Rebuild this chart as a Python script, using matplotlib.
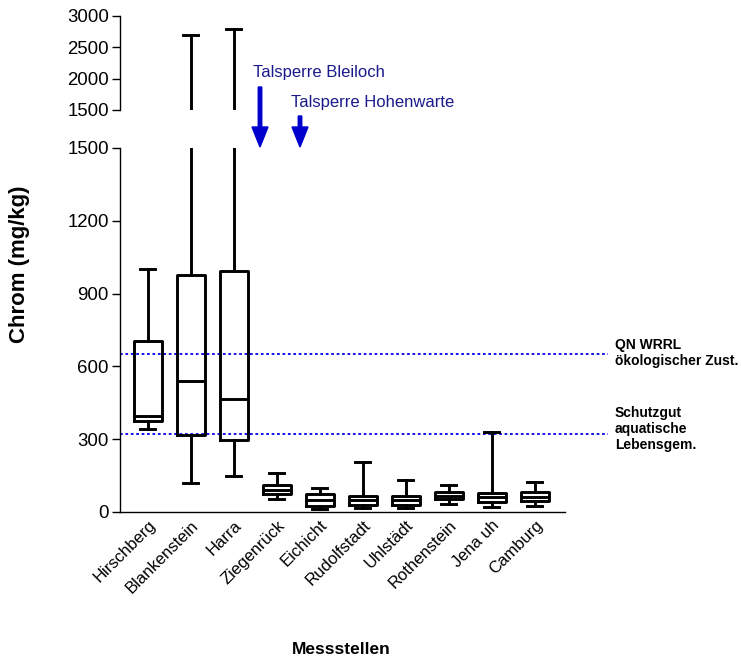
import matplotlib
matplotlib.use("Agg")
import matplotlib.pyplot as plt

plt.rcParams['font.family'] = ['Liberation Sans', 'DejaVu Sans']

categories = ["Hirschberg", "Blankenstein", "Harra", "Ziegenrück", "Eichicht",
              "Rudolfstadt", "Uhlstädt", "Rothenstein", "Jena uh", "Camburg"]
whislo = [340, 120, 150, 55, 12, 16, 18, 31, 19, 23]
q1     = [374, 316, 295, 75, 23, 29, 30, 54, 42, 47]
med    = [394, 540, 467, 92, 48, 48, 51, 66, 60, 63]
q3     = [705, 977, 995, 111, 73, 64, 67, 81, 78, 82]
whishi = [1000, 2700, 2800, 161, 100, 207, 130, 111, 330, 124]

qn_wrrl = 650
schutzgut = 320

stats = [dict(whislo=a, q1=b, med=c, q3=d, whishi=e, label=l)
         for a, b, c, d, e, l in zip(whislo, q1, med, q3, whishi, categories)]

fig = plt.figure(figsize=(7.41, 6.59), dpi=100)
W, H = 741, 659
left, right = 120 / W, 565 / W
ax = fig.add_axes([left, (H - 512) / H, right - left, (512 - 148) / H])
axu = fig.add_axes([left, (H - 110) / H, right - left, (110 - 16) / H])

lw = 2.1
props = dict(boxprops=dict(color='black', linewidth=lw),
             whiskerprops=dict(color='black', linewidth=lw),
             capprops=dict(color='black', linewidth=lw),
             medianprops=dict(color='black', linewidth=lw))
for a in (ax, axu):
    a.bxp(stats, positions=range(len(categories)), widths=0.67, capwidths=0.35,
          showfliers=False, **props)
    a.set_xlim(-0.65, 9.7)
    for s in ('top', 'right'):
        a.spines[s].set_visible(False)
    a.spines['left'].set_linewidth(1.0)
    a.tick_params(axis='y', direction='out', length=6, width=1.0, labelsize=13.4, pad=2)

ax.set_ylim(0, 1500)
ax.set_yticks([0, 300, 600, 900, 1200, 1500])
ax.spines['bottom'].set_linewidth(1.0)
ax.set_xticks(range(len(categories)))
ax.set_xticklabels(categories, rotation=45, ha='right', rotation_mode='anchor', fontsize=12)
ax.tick_params(axis='x', length=0, pad=4)

axu.set_ylim(1500, 3000)
axu.set_yticks([1500, 2000, 2500, 3000])
axu.spines['bottom'].set_visible(False)
axu.set_xticks([])

for yv in (qn_wrrl, schutzgut):
    ax.plot([-0.65, 10.7], [yv, yv], color='#0000ee', linestyle=(0, (1.5, 1.5)),
            linewidth=1.3, clip_on=False, zorder=1)

fig.text(615 / W, 1 - 353 / H, "QN WRRL\nökologischer Zust.", fontsize=10,
         fontweight='bold', ha='left', va='center', linespacing=1.2)
fig.text(615 / W, 1 - 429 / H, "Schutzgut\naquatische\nLebensgem.", fontsize=10,
         fontweight='bold', ha='left', va='center', linespacing=1.2)

arrow_color = '#0000cc'
text_color = '#1a1a8c'
fig.text(253 / W, 1 - 73 / H, "Talsperre Bleiloch", fontsize=12, color=text_color,
         ha='left', va='center')
fig.text(291 / W, 1 - 102 / H, "Talsperre Hohenwarte", fontsize=12, color=text_color,
         ha='left', va='center')
fig.patches.append(matplotlib.patches.FancyArrow(
    260 / W, 1 - 87 / H, 0, -(147 - 87) / H, width=3.5 / W, head_width=16 / W,
    head_length=20 / H, length_includes_head=True, color=arrow_color,
    transform=fig.transFigure, figure=fig))
fig.patches.append(matplotlib.patches.FancyArrow(
    300 / W, 1 - 116 / H, 0, -(147 - 116) / H, width=3.5 / W, head_width=16 / W,
    head_length=20 / H, length_includes_head=True, color=arrow_color,
    transform=fig.transFigure, figure=fig))

fig.text(20 / W, 1 - 264 / H, "Chrom (mg/kg)", fontsize=16, fontweight='bold',
         rotation=90, ha='center', va='center')
fig.text(341 / W, 1 - 649 / H, "Messstellen", fontsize=12.5, fontweight='bold',
         ha='center', va='center')

fig.savefig("out.png", dpi=100)
